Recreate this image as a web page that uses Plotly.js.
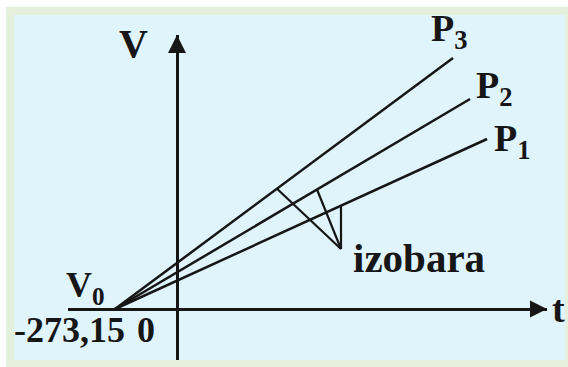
<!DOCTYPE html>
<html>
<head>
<meta charset="utf-8">
<script src="https://cdn.plot.ly/plotly-3.0.1.min.js"></script>
<style>
  html, body { margin: 0; padding: 0; background: #ffffff; width: 568px; height: 367px; overflow: hidden; }
  #frame { position: absolute; left: 6px; top: 7px; width: 562px; height: 360px; background: #e4f0dc; }
  #panel { position: absolute; left: 14px; top: 15px; width: 551px; height: 345px; background: #e0f4fc; }
  #chart { position: absolute; left: 0; top: 0; width: 568px; height: 367px; }
</style>
</head>
<body>
<div id="frame"></div>
<div id="panel"></div>
<div id="chart"></div>
<script>
// ---- data ----
var seriesNames = ['P<sub>1</sub>', 'P<sub>2</sub>', 'P<sub>3</sub>'];
var tStart = [-273.15, -273.15, -273.15];     // t (°C) where every isobar meets V = 0
var tEnd   = [1366, 1291, 1216];              // t at the drawn end of each isobar
var vStart = [0, 0, 0];
var vEnd   = [17.0, 21.0, 25.1];              // V at the drawn end of each isobar
// pointer lines from the label "izobara" to each isobar
var pointerT = [[722.5, 722.5], [616.8, 722.5], [440.6, 722.5]];
var pointerV = [[10.33, 6.0], [11.95, 6.0], [12.03, 6.0]];
var tickT = [-273.15, 0];
var tickLabels = ['-273,15', '0'];
var xRange = [-480.2, 1630.1];
var yRange = [-5.1, 27.4];

var ink = '#161616';
var fnt = 'Liberation Serif';

var traces = [];
for (var i = 0; i < seriesNames.length; i++) {
  traces.push({
    type: 'scatter', mode: 'lines',
    x: [tStart[i], tEnd[i]], y: [vStart[i], vEnd[i]],
    line: { color: ink, width: 2.5 }, hoverinfo: 'skip', showlegend: false
  });
  traces.push({
    type: 'scatter', mode: 'lines',
    x: pointerT[i], y: pointerV[i],
    line: { color: ink, width: 2.2 }, hoverinfo: 'skip', showlegend: false
  });
}
// arrow heads at the axis ends
traces.push({
  type: 'scatter', mode: 'markers', x: [0], y: [yRange[1]], cliponaxis: false,
  marker: { symbol: 'arrow-up', size: 18, color: ink, line: { width: 0 } },
  hoverinfo: 'skip', showlegend: false
});
traces.push({
  type: 'scatter', mode: 'markers', x: [xRange[1]], y: [0], cliponaxis: false,
  marker: { symbol: 'arrow-right', size: 17, color: ink, line: { width: 0 } },
  hoverinfo: 'skip', showlegend: false
});

var annotations = [];
function lab(x, y, text, size, xanchor, xs, ys) {
  annotations.push({
    x: x, y: y, xref: 'x', yref: 'y', text: text, showarrow: false,
    xanchor: xanchor || 'center', yanchor: 'middle', xshift: xs || 0, yshift: ys || 0,
    font: { family: fnt, size: size, color: ink, weight: 'bold' }
  });
}
// series labels, placed next to the end of each isobar
var pShiftX = [5, 4, -24];
var pShiftY = [-1.5, 11.5, 27.5];
for (var j = 0; j < seriesNames.length; j++) {
  lab(tEnd[j], vEnd[j], '<b>' + seriesNames[j] + '</b>', 38, 'left', pShiftX[j], pShiftY[j]);
}
lab(-193.8, 26.6, '<b>V</b>', 40);                                  // V axis name
lab(xRange[1], 0, '<b>t</b>', 38, 'left', 3, 0);                    // t axis name
lab(xRange[0], 0, '<b>V<sub>0</sub></b>', 36, 'left', -4, 22);      // V0
lab(775.4, 5.1, '<b>izobara</b>', 41, 'left', -2, 0);               // izobara
var tickShift = [12, -20];
for (var k = 0; k < tickT.length; k++) {
  annotations.push({
    x: tickT[k], y: -2.1, xref: 'x', yref: 'y', text: '<b>' + tickLabels[k] + '</b>', showarrow: false,
    xanchor: 'right', yanchor: 'middle', xshift: tickShift[k],
    font: { family: fnt, size: 36, color: ink, weight: 'bold' }
  });
}

var layout = {
  width: 568, height: 367,
  margin: { l: 68, r: 21, t: 35, b: 7, pad: 0 },
  paper_bgcolor: 'rgba(0,0,0,0)', plot_bgcolor: 'rgba(0,0,0,0)',
  showlegend: false,
  xaxis: {
    range: xRange, showgrid: false, showticklabels: false, ticks: '',
    zeroline: true, zerolinecolor: ink, zerolinewidth: 3, showline: false, fixedrange: true
  },
  yaxis: {
    range: yRange, showgrid: false, showticklabels: false, ticks: '',
    zeroline: true, zerolinecolor: ink, zerolinewidth: 3, showline: false, fixedrange: true
  },
  annotations: annotations
};

Plotly.newPlot('chart', traces, layout, { staticPlot: true, displayModeBar: false });
</script>
</body>
</html>
